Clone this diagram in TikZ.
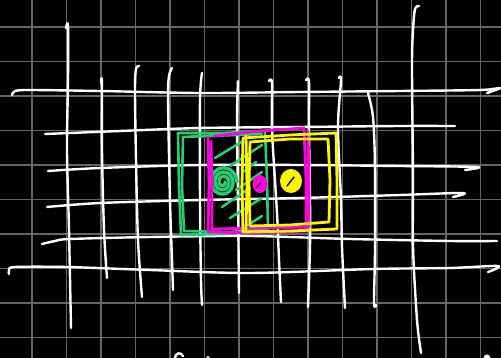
\documentclass[tikz,border=0pt]{standalone}
\usepackage{tikz}

\definecolor{chalkgreen}{RGB}{40,205,115}
\definecolor{chalkpink}{RGB}{255,0,225}
\definecolor{chalkyellow}{RGB}{255,245,0}

\begin{document}
\begin{tikzpicture}[x=1pt, y=-1pt,
  gridline/.style={draw=black!60, line width=1.3pt},
  chalk/.style={draw=white, line width=2.4pt, line cap=round, line join=round},
  greenpen/.style={draw=chalkgreen, line width=2.6pt, line cap=round, line join=round},
  pinkpen/.style={draw=chalkpink, line width=2.8pt, line cap=round, line join=round},
  yellowpen/.style={draw=chalkyellow, line width=2.8pt, line cap=round, line join=round}]

  %% Board
  \useasboundingbox (0,0) rectangle (501,358);
  \clip (0,0) rectangle (501,358);
  \fill[black] (0,0) rectangle (501,358);

  %% Background grid
  \foreach \gx in {32,66.5,...,481}
    \draw[gridline] (\gx,0) -- (\gx,358);
  \foreach \gy in {27,61.5,...,338}
    \draw[gridline] (0,\gy) -- (501,\gy);

  %% Chalk lines, across
  \draw[chalk] plot[smooth] coordinates {(12,95) (15,91) (30,90) (100,91) (200,93) (300,92) (400,91) (480,90) (500,88) (487,93)};
  \draw[chalk] plot[smooth] coordinates {(45,134) (120,131) (200,128) (300,127) (400,126) (455,126)};
  \draw[chalk] plot[smooth] coordinates {(48,171) (100,168) (200,165) (300,165) (400,166) (477,167) (465,170)};
  \draw[chalk] plot[smooth] coordinates {(47,207) (100,203) (200,200) (300,198) (400,195) (463,193) (453,197)};
  \draw[chalk] plot[smooth] coordinates {(42,244) (55,241) (70,239) (150,237) (250,236) (350,239) (450,241) (497,241)};
  \draw[chalk] plot[smooth] coordinates {(9,274) (9,270) (15,267) (67,267) (150,270) (250,273) (373,269) (450,268) (498,266) (488,272)};

  %% Chalk lines, down
  \draw[chalk] plot[smooth] coordinates {(66,28) (68,26) (68,80) (67,150) (69,230) (71,328)};
  \draw[chalk] plot[smooth] coordinates {(101,83) (102,82) (102,150) (104,230) (107,278)};
  \draw[chalk] plot[smooth] coordinates {(139,66) (136,69) (135,90) (136,160) (138,240) (142,297)};
  \draw[chalk] plot[smooth] coordinates {(172,68) (169,76) (168,100) (170,200) (172,260) (173,290)};
  \draw[chalk] plot[smooth] coordinates {(202,73) (200,100) (200,200) (201,280) (202,305)};
  \draw[chalk] plot[smooth] coordinates {(238,81) (237,120) (238,200) (239,293)};
  \draw[chalk] plot[smooth] coordinates {(269,81) (272,83) (272,130) (277,213) (279,260) (281,302)};
  \draw[chalk] plot[smooth] coordinates {(306,80) (309,82) (309,127) (310,200) (310,247) (308,307)};
  \draw[chalk] plot[smooth] coordinates {(339,78) (341,80) (338,127) (341,200) (342,247) (345,308)};
  \draw[chalk] plot[smooth] coordinates {(368,93) (373,117) (375,167) (375,250) (374,303) (376,305)};
  \draw[chalk] plot[smooth] coordinates {(419,6) (415,9) (413,30) (412,67) (413,177) (413,247) (417,320) (421,353)};

  %% Bits cut off at the bottom edge
  \draw[chalk] (175,359) .. controls (175,352) and (181,352) .. (183,356);
  \fill[white] (208,357.5) circle (1.6);
  \fill[white] (487,358) circle (3.5);

  %% Green box, hatching and spiral
  \draw[greenpen] (178,133) -- (222,133) -- (265,131) -- (267,180) -- (268,230)
    -- (225,234) -- (181,235) -- (179,185) -- cycle;
  \draw[greenpen] (183,137) -- (220,135) -- (262,134) -- (183,137) -- (182,185) -- (184,231) -- (230,232) -- (266,229);
  \foreach \ha/\hb in {{(215,158)}/{(243,141)}, {(230,166)}/{(262,145)}, {(243,172)}/{(256,162)},
                       {(236,190)}/{(262,172)}, {(222,207)}/{(250,188)}, {(230,218)}/{(262,198)},
                       {(248,225)}/{(262,216)}}
    \draw[greenpen] \ha -- \hb;
  \draw[greenpen, line width=3.4pt] plot[smooth, domain=0:1080, samples=80]
    ({223+(2+\x/90)*cos(\x)}, {182+(2.5+\x/85)*sin(\x)});

  %% Magenta box and dot
  \draw[pinkpen] (208,137) -- (209,185) -- (208,232) -- (255,233) -- (306,231)
    -- (306,180) -- (304,128) -- (260,131) -- (214,136);
  \draw[pinkpen] (211,141) -- (212,190) -- (212,229) -- (260,228) -- (309,227) -- (309,175) -- (308,131);
  \fill[chalkpink] (260,184) ellipse (7.5 and 9);
  \draw[black, line width=1.4pt, line cap=round] (256,188) -- (261,183);

  %% Yellow box and dot
  \draw[yellowpen] (243,138) -- (290,135) -- (336,133) -- (337,180) -- (337,229)
    -- (290,231) -- (243,232) -- (242,185) -- cycle;
  \draw[yellowpen] (250,142) -- (290,139) -- (328,139) -- (330,180) -- (329,222)
    -- (290,225) -- (250,226) -- (249,185) -- cycle;
  \draw[yellowpen] (246,136) -- (247,185) -- (246,230);
  \fill[chalkyellow] (291,181) ellipse (11 and 12);
  \draw[black, line width=1.4pt, line cap=round] (287,186) -- (294,177);

\end{tikzpicture}
\end{document}
